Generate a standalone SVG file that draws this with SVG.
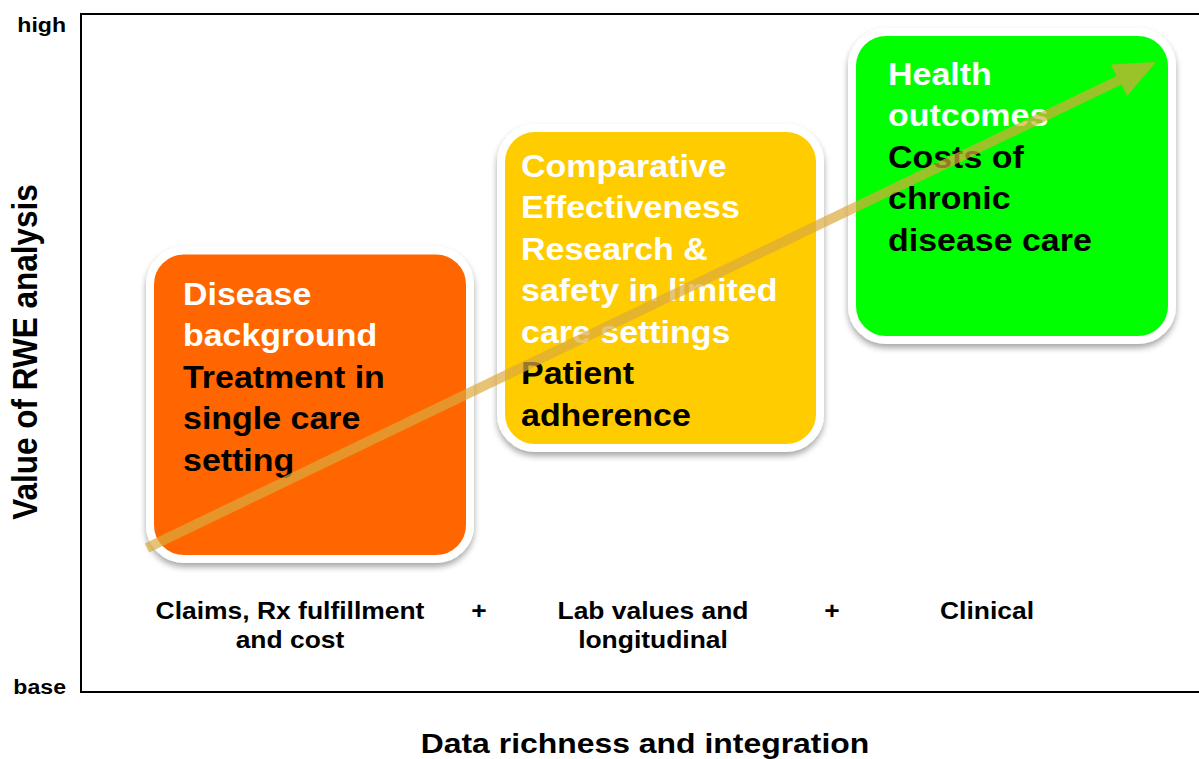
<svg xmlns="http://www.w3.org/2000/svg" width="1199" height="759" viewBox="0 0 1199 759">
<defs>
<style>
.t{font-family:"Liberation Sans",Arial,sans-serif;font-weight:bold}
.box{stroke:#fff;stroke-width:8}
.w{fill:#fff}
.k{fill:#000}
.axis{fill:none;stroke:#000;stroke-width:2}
</style>
<filter id="sh" x="-10%" y="-10%" width="120%" height="125%">
<feDropShadow dx="0" dy="4" stdDeviation="3" flood-color="#000" flood-opacity="0.35"/>
</filter>
</defs>
<rect width="1199" height="759" fill="#fff"/>
<g id="axes">
<path class="axis" d="M1199,14 H81 V692 H1199"/>
<text class="t" font-size="21" text-anchor="end" transform="translate(66,32) scale(1.1,1)">high</text>
<text class="t" font-size="21" text-anchor="end" transform="translate(66,694) scale(1.1,1)">base</text>
<text class="t" font-size="31.5" text-anchor="middle" transform="translate(37,352) scale(1.13,1) rotate(-90)">Value of RWE analysis</text>
<text class="t" font-size="28.5" text-anchor="middle" transform="translate(645,753) scale(1.12,1)">Data richness and integration</text>
<g font-size="23" text-anchor="middle">
<text class="t" transform="translate(290,619) scale(1.15,1)">Claims, Rx fulfillment</text>
<text class="t" transform="translate(290,648) scale(1.15,1)">and cost</text>
<text class="t" transform="translate(479,619) scale(1.15,1)">+</text>
<text class="t" transform="translate(653,619) scale(1.15,1)">Lab values and</text>
<text class="t" transform="translate(653,648) scale(1.15,1)">longitudinal</text>
<text class="t" transform="translate(832,619) scale(1.15,1)">+</text>
<text class="t" transform="translate(987,619) scale(1.15,1)">Clinical</text>
</g>
</g>
<g id="node-disease">
<rect class="box" x="150" y="250.5" width="320" height="308.5" rx="34" fill="#ff6600" filter="url(#sh)"/>
<text class="t" font-size="31" transform="translate(183,305) scale(1.095,1)"><tspan class="w" x="0" y="0">Disease</tspan><tspan class="w" x="0" y="41.5">background</tspan><tspan class="k" x="0" y="83">Treatment in</tspan><tspan class="k" x="0" y="124.5">single care</tspan><tspan class="k" x="0" y="166">setting</tspan></text>
</g>
<g id="node-comparative">
<rect class="box" x="501" y="128" width="319" height="320" rx="34" fill="#ffcc00" filter="url(#sh)"/>
<text class="t" font-size="31" transform="translate(521,177) scale(1.095,1)"><tspan class="w" x="0" y="0">Comparative</tspan><tspan class="w" x="0" y="41.5">Effectiveness</tspan><tspan class="w" x="0" y="83">Research &amp;</tspan><tspan class="w" x="0" y="124.5">safety in limited</tspan><tspan class="w" x="0" y="166">care settings</tspan><tspan class="k" x="0" y="207.5">Patient</tspan><tspan class="k" x="0" y="249">adherence</tspan></text>
</g>
<g id="node-health">
<rect class="box" x="852" y="32" width="320" height="308" rx="34" fill="#00ff00" filter="url(#sh)"/>
<text class="t" font-size="31" transform="translate(888,85) scale(1.095,1)"><tspan class="w" x="0" y="0">Health</tspan><tspan class="w" x="0" y="41.5">outcomes</tspan><tspan class="k" x="0" y="83">Costs of</tspan><tspan class="k" x="0" y="124.5">chronic</tspan><tspan class="k" x="0" y="166">disease care</tspan></text>
</g>
<g id="connectors">
<path d="M144.8,543.5 L1116.5,76 L1111,64.5 L1156,62 L1127,96 L1121.5,84.5 L149.2,552.5 Z" fill="#dcaa3c" fill-opacity="0.7"/>
</g>
</svg>
